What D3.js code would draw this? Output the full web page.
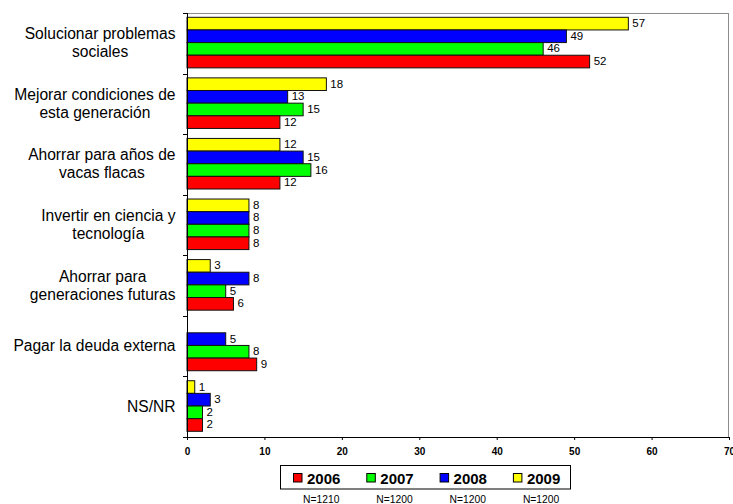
<!DOCTYPE html>
<html>
<head>
<meta charset="utf-8">
<script src="https://cdn.jsdelivr.net/npm/d3@7"></script>
<style>
  html, body { margin: 0; padding: 0; background: #fff; }
  svg { display: block; font-family: "Liberation Sans", Arial, sans-serif; }
</style>
</head>
<body>
<svg id="chart" width="733" height="504"></svg>
<script>
// ---- data ----
const categories = [
  ["Solucionar problemas", "sociales"],
  ["Mejorar condiciones de", "esta generación"],
  ["Ahorrar para años de", "vacas flacas"],
  ["Invertir en ciencia y", "tecnología"],
  ["Ahorrar para", "generaciones futuras"],
  ["Pagar la deuda externa"],
  ["NS/NR"]
];
const years = ["2009", "2008", "2007", "2006"];          // top-to-bottom order in each group
const legendYears = ["2006", "2007", "2008", "2009"];
const legendN = ["N=1210", "N=1200", "N=1200", "N=1200"];
const values2006 = [52, 12, 12, 8, 6, 9, 2];
const values2007 = [46, 15, 16, 8, 5, 8, 2];
const values2008 = [49, 13, 15, 8, 8, 5, 3];
const values2009 = [57, 18, 12, 8, 3, null, 1];
const xTicks = [0, 10, 20, 30, 40, 50, 60, 70];
const colors = { "2006": "#FF0000", "2007": "#00FF00", "2008": "#0000FF", "2009": "#FFFF00" };
const seriesValues = { "2006": values2006, "2007": values2007, "2008": values2008, "2009": values2009 };

(function () {
// ---- layout ----
const svg = d3.select("#chart");
const pLeft = 187, pRight = 729, pTop = 13, pBottom = 437;

const x = d3.scaleLinear().domain([0, 70]).range([pLeft, pRight]);
const y = d3.scaleBand().domain(d3.range(categories.length)).range([pTop, pBottom]).padding(0);
const yInner = d3.scaleBand().domain(years).range([4.3, y.bandwidth() - 5.7]).padding(0);

// plot frame (grey top & right)
svg.append("line").attr("x1", pLeft).attr("x2", pRight).attr("y1", pTop + 0.5).attr("y2", pTop + 0.5)
  .attr("stroke", "#8c8c8c").attr("stroke-width", 1);
svg.append("line").attr("x1", pRight - 0.5).attr("x2", pRight - 0.5).attr("y1", pTop).attr("y2", pBottom)
  .attr("stroke", "#8c8c8c").attr("stroke-width", 1);

// bars
const rows = [];
categories.forEach((c, i) => {
  years.forEach(yr => {
    const v = seriesValues[yr][i];
    if (v !== null && v !== undefined) rows.push({ i, yr, v });
  });
});

const g = svg.append("g");
g.selectAll("rect.bar").data(rows).enter().append("rect")
  .attr("class", "bar")
  .attr("x", x(0))
  .attr("y", d => y(d.i) + yInner(d.yr))
  .attr("width", d => x(d.v) - x(0))
  .attr("height", yInner.bandwidth())
  .attr("fill", d => colors[d.yr])
  .attr("stroke", "#111")
  .attr("stroke-width", 1);

g.selectAll("text.val").data(rows).enter().append("text")
  .attr("class", "val")
  .attr("x", d => x(d.v) + 4)
  .attr("y", d => y(d.i) + yInner(d.yr) + yInner.bandwidth() / 2 + 3.5)
  .attr("font-size", "11.5px")
  .attr("fill", "#000")
  .text(d => d.v);

// left axis
svg.append("line").attr("x1", pLeft + 0.5).attr("x2", pLeft + 0.5).attr("y1", pTop).attr("y2", pBottom)
  .attr("stroke", "#000");
const boundaries = d3.range(categories.length + 1).map(k => k === categories.length ? pBottom : y(k));
svg.selectAll("line.ytick").data(boundaries).enter().append("line")
  .attr("x1", pLeft - 4).attr("x2", pLeft)
  .attr("y1", d => Math.round(d) + 0.5).attr("y2", d => Math.round(d) + 0.5)
  .attr("stroke", "#000");

// category labels
const labelRight = 175.5;
const lab = svg.append("g").attr("font-size", "15.6px").attr("fill", "#000");
categories.forEach((lines, i) => {
  const cy = y(i) + y.bandwidth() / 2;
  const tmp = lines.map(l => lab.append("text").text(l));
  const widths = tmp.map(t => t.node().getComputedTextLength());
  const maxW = d3.max(widths);
  const cx = labelRight - maxW / 2;
  tmp.forEach((t, k) => {
    const baseline = lines.length === 1 ? cy + 5 : cy - 4 + k * 18;
    t.attr("x", cx).attr("y", baseline).attr("text-anchor", "middle");
  });
});

// bottom axis
const xAxis = d3.axisBottom(x).tickValues(xTicks).tickSize(3).tickPadding(8).tickFormat(d3.format("d"));
const ax = svg.append("g").attr("transform", `translate(0,${pBottom})`).call(xAxis);
ax.select(".domain").attr("stroke", "#000").attr("d", `M${pLeft},0.5H${pRight}`);
ax.selectAll(".tick line").attr("stroke", "#000");
ax.selectAll(".tick text").attr("font-size", "10px").attr("font-weight", "bold")
  .attr("font-family", "'Liberation Sans', Arial, sans-serif").attr("fill", "#000");

// legend
const lg = svg.append("g");
lg.append("rect").attr("x", 280.5).attr("y", 465.5).attr("width", 290).attr("height", 23.5)
  .attr("fill", "#fff").attr("stroke", "#000").attr("stroke-width", 1);
const step = 73.3;
legendYears.forEach((yr, k) => {
  lg.append("rect").attr("x", 293.5 + k * step).attr("y", 473.5).attr("width", 8.5).attr("height", 8.5)
    .attr("fill", colors[yr]).attr("stroke", "#000");
  lg.append("text").attr("x", 307 + k * step).attr("y", 483.5)
    .attr("font-size", "15px").attr("font-weight", "bold").attr("fill", "#000").text(yr);
  svg.append("text").attr("x", 303 + k * step).attr("y", 503)
    .attr("font-size", "10.3px").attr("fill", "#000").text(legendN[k]);
});
})();
</script>
</body>
</html>
